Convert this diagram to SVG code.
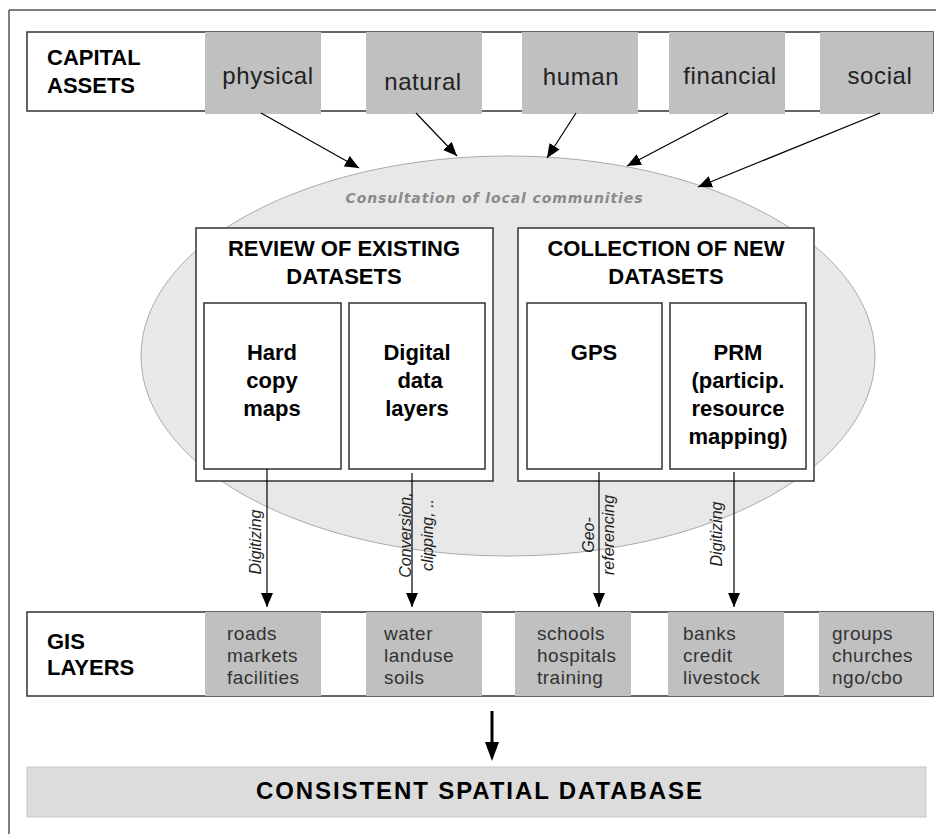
<svg xmlns="http://www.w3.org/2000/svg" width="936" height="834" viewBox="0 0 936 834">
<style>
.bar{fill:#fff;stroke:#333;stroke-width:1.5}
.gray{fill:#c0c0c0}
.box{fill:#fff;stroke:#333;stroke-width:1.5}
.hd{font-family:"Liberation Sans",Arial,sans-serif;font-weight:bold;font-size:22px;fill:#000}
.asset{font-family:"Liberation Sans",Arial,sans-serif;font-size:24px;letter-spacing:0.6px;fill:#222;text-anchor:middle}
.layer{font-family:"Liberation Sans",Arial,sans-serif;font-size:19px;letter-spacing:0.5px;fill:#333}
.inner{font-family:"Liberation Sans",Arial,sans-serif;font-weight:bold;font-size:22px;fill:#000;text-anchor:middle}
.lbl{font-family:"Liberation Sans",Arial,sans-serif;font-style:italic;font-size:16px;fill:#222;text-anchor:middle}
.conn{stroke:#000;stroke-width:1.2;fill:none}
</style>
<defs>
<marker id="ah" markerUnits="userSpaceOnUse" markerWidth="14" markerHeight="12" refX="14" refY="6" orient="auto">
<path d="M0,0 L14,6 L0,12 z" fill="#000"/>
</marker>
</defs>
<rect width="936" height="834" fill="#fff"/>
<g id="frame">
<line x1="9" y1="10" x2="936" y2="10" stroke="#555" stroke-width="1.5"/>
<line x1="9" y1="10" x2="9" y2="834" stroke="#555" stroke-width="1.5"/>
</g>

<g id="capital-assets">
<rect class="bar" x="27" y="32" width="906" height="79"/>
<text class="hd" x="47" y="65">CAPITAL</text>
<text class="hd" x="47" y="93">ASSETS</text>
</g>
<g id="physical"><rect class="gray" x="205" y="32" width="116" height="82"/><text class="asset" x="268" y="84">physical</text></g>
<g id="natural"><rect class="gray" x="366" y="32" width="116" height="82"/><text class="asset" x="423" y="90">natural</text></g>
<g id="human"><rect class="gray" x="522" y="32" width="116" height="82"/><text class="asset" x="581" y="85">human</text></g>
<g id="financial"><rect class="gray" x="669" y="32" width="116" height="82"/><text class="asset" x="730" y="84">financial</text></g>
<g id="social"><rect class="gray" x="820" y="32" width="113" height="82"/><text class="asset" x="880" y="84">social</text></g>

<g id="consultation">
<ellipse cx="508" cy="356" rx="367" ry="200" fill="#e8e8e8" stroke="#aaa" stroke-width="1"/>
<text x="494" y="203" text-anchor="middle" font-family="DejaVu Sans, sans-serif" font-style="italic" font-weight="bold" font-size="14" fill="#8a8a8a" textLength="297" lengthAdjust="spacing">Consultation of local communities</text>
</g>

<g id="review">
<rect class="box" x="196" y="228" width="297" height="253"/>
<text class="inner" x="344" y="256">REVIEW OF EXISTING</text>
<text class="inner" x="344" y="284">DATASETS</text>
</g>
<g id="hardcopy">
<rect class="box" x="204" y="303" width="137" height="166"/>
<text class="inner" x="272" y="360">Hard</text>
<text class="inner" x="272" y="388">copy</text>
<text class="inner" x="272" y="416">maps</text>
</g>
<g id="digital">
<rect class="box" x="349" y="303" width="136" height="166"/>
<text class="inner" x="417" y="360">Digital</text>
<text class="inner" x="420" y="388">data</text>
<text class="inner" x="417" y="416">layers</text>
</g>
<g id="collection">
<rect class="box" x="518" y="228" width="296" height="253"/>
<text class="inner" x="666" y="256">COLLECTION OF NEW</text>
<text class="inner" x="666" y="284">DATASETS</text>
</g>
<g id="gps">
<rect class="box" x="527" y="303" width="135" height="166"/>
<text class="inner" x="594" y="360">GPS</text>
</g>
<g id="prm">
<rect class="box" x="670" y="303" width="136" height="166"/>
<text class="inner" x="738" y="360">PRM</text>
<text class="inner" x="738" y="388">(particip.</text>
<text class="inner" x="738" y="416">resource</text>
<text class="inner" x="738" y="444">mapping)</text>
</g>

<g id="gis-layers">
<rect class="bar" x="27" y="612" width="906" height="84"/>
<text class="hd" x="47" y="649">GIS</text>
<text class="hd" x="47" y="675">LAYERS</text>
</g>
<g id="layer-physical"><rect class="gray" x="205" y="612" width="116" height="84"/>
<text class="layer" x="227" y="640">roads</text><text class="layer" x="227" y="662">markets</text><text class="layer" x="227" y="684">facilities</text></g>
<g id="layer-natural"><rect class="gray" x="366" y="612" width="116" height="84"/>
<text class="layer" x="384" y="640">water</text><text class="layer" x="384" y="662">landuse</text><text class="layer" x="384" y="684">soils</text></g>
<g id="layer-human"><rect class="gray" x="515" y="612" width="116" height="84"/>
<text class="layer" x="537" y="640">schools</text><text class="layer" x="537" y="662">hospitals</text><text class="layer" x="537" y="684">training</text></g>
<g id="layer-financial"><rect class="gray" x="668" y="612" width="116" height="84"/>
<text class="layer" x="683" y="640">banks</text><text class="layer" x="683" y="662">credit</text><text class="layer" x="683" y="684">livestock</text></g>
<g id="layer-social"><rect class="gray" x="819" y="612" width="114" height="84"/>
<text class="layer" x="832" y="640">groups</text><text class="layer" x="832" y="662">churches</text><text class="layer" x="832" y="684">ngo/cbo</text></g>

<g id="database">
<rect x="27" y="767" width="899" height="50" fill="#dcdcdc" stroke="#c8c8c8" stroke-width="1"/>
<text x="479" y="799" text-anchor="middle" font-family="Liberation Sans, Arial, sans-serif" font-weight="bold" font-size="24" fill="#000" textLength="446" lengthAdjust="spacing">CONSISTENT SPATIAL DATABASE</text>
</g>

<g id="connectors">
<line class="conn" x1="261" y1="113" x2="359" y2="168" marker-end="url(#ah)"/>
<line class="conn" x1="416" y1="113" x2="457" y2="156" marker-end="url(#ah)"/>
<line class="conn" x1="576" y1="113" x2="547" y2="158" marker-end="url(#ah)"/>
<line class="conn" x1="728" y1="113" x2="627" y2="166" marker-end="url(#ah)"/>
<line class="conn" x1="880" y1="113" x2="698" y2="187" marker-end="url(#ah)"/>
<line class="conn" x1="267" y1="469" x2="267" y2="607" marker-end="url(#ah)"/>
<line class="conn" x1="412" y1="473" x2="412" y2="607" marker-end="url(#ah)"/>
<line class="conn" x1="599" y1="472" x2="599" y2="607" marker-end="url(#ah)"/>
<line class="conn" x1="734" y1="472" x2="734" y2="607" marker-end="url(#ah)"/>
<text class="lbl" transform="translate(261,542) rotate(-90)">Digitizing</text>
<text class="lbl" transform="translate(411,535) rotate(-90)">Conversion,</text>
<text class="lbl" transform="translate(433,535) rotate(-90)">clipping, ..</text>
<text class="lbl" transform="translate(594,535) rotate(-90)">Geo-</text>
<text class="lbl" transform="translate(614,535) rotate(-90)">referencing</text>
<text class="lbl" transform="translate(722,534) rotate(-90)">Digitizing</text>
<line x1="492" y1="711" x2="492" y2="744" stroke="#000" stroke-width="3"/>
<polygon points="485,742 499,742 492,761" fill="#000"/>
</g>
</svg>
